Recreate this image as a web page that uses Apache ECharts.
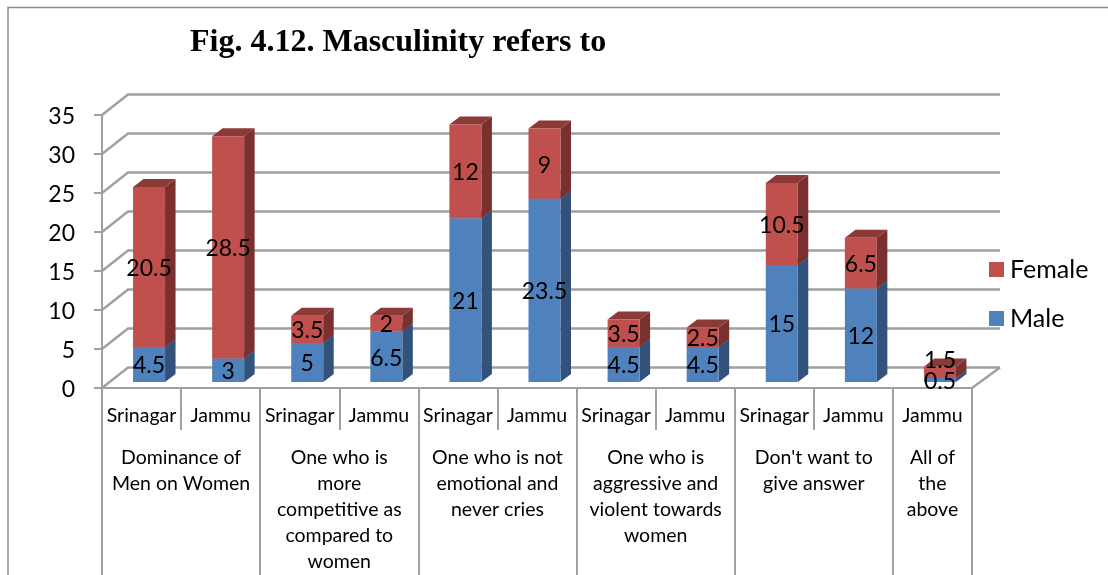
<!DOCTYPE html>
<html>
<head>
<meta charset="utf-8">
<style>html,body{margin:0;padding:0;background:#fff}#c{width:1108px;height:575px}</style>
<script src="https://cdn.jsdelivr.net/npm/echarts@6/dist/echarts.min.js"></script>
</head>
<body>
<div id="c"></div>
<script>
const places = ['Srinagar','Jammu','Srinagar','Jammu','Srinagar','Jammu','Srinagar','Jammu','Srinagar','Jammu','Jammu'];
const male = [4.5,3,5,6.5,21,23.5,4.5,4.5,15,12,0.5];
const female = [20.5,28.5,3.5,2,12,9,3.5,2.5,10.5,6.5,1.5];
const groupLabels = ['Dominance of\nMen on Women','One who is\nmore\ncompetitive as\ncompared to\nwomen','One who is not\nemotional and\nnever cries','One who is\naggressive and\nviolent towards\nwomen',"Don't want to\ngive answer",'All of\nthe\nabove'];
const groupCenters = [1,3,5,7,9,10.5];
const groupEdges = [0,2,4,6,8,10,11];
const yTicks = [0,5,10,15,20,25,30,35];

const FONT = 'Lato';
const GRID_L = 102, GRID_R = 972, GRID_T = 115, GRID_B = 388;
const WALL_DX = 26, WALL_DY = -20.5;
const BAR_SHIFT_X = 7.5, BAR_SHIFT_Y = -6, BAR_W = 32, DEPTH_X = 10.5, DEPTH_Y = -8;
const GRID_COLOR = '#A0A0A0';

const palette = {
  Male: {front:'#4F81BD', side:'#32527B', top:'#3C6290'},
  Female:{front:'#C0504D', side:'#7A302E', top:'#8C3A38'}
};

function barItem(name, values, bases){
  return function(params, api){
    const i = api.value(0);
    const v = values[i], b = bases ? bases[i] : 0;
    const c = palette[name];
    const cx = api.coord([i, 0])[0] + BAR_SHIFT_X;
    const y0 = api.coord([i, b])[1] + BAR_SHIFT_Y;
    const y1 = api.coord([i, b + v])[1] + BAR_SHIFT_Y;
    const x0 = cx - BAR_W / 2, x1 = cx + BAR_W / 2;
    return {
      type: 'group',
      children: [
        {type:'polygon', shape:{points:[[x1,y0],[x1+DEPTH_X,y0+DEPTH_Y],[x1+DEPTH_X,y1+DEPTH_Y],[x1,y1]]}, style:{fill:c.side}},
        {type:'polygon', shape:{points:[[x0,y1],[x1,y1],[x1+DEPTH_X,y1+DEPTH_Y],[x0+DEPTH_X,y1+DEPTH_Y]]}, style:{fill:c.top}},
        {type:'rect', shape:{x:x0, y:y1, width:BAR_W, height:y0-y1}, style:{fill:c.front}}
      ]
    };
  };
}
function labelItem(values, bases){
  return function(params, api){
    const i = api.value(0);
    const v = values[i], b = bases ? bases[i] : 0;
    const cx = api.coord([i, 0])[0] + BAR_SHIFT_X;
    const y0 = api.coord([i, b])[1] + BAR_SHIFT_Y;
    const y1 = api.coord([i, b + v])[1] + BAR_SHIFT_Y;
    const thin = bases && v < 2;
    return {type:'text', style:{text:String(v), x:cx, y:(y0+y1)/2 + (thin ? -12 : 1.5), align:'center', verticalAlign:'middle', font:'23px '+FONT, fill:'#000'}};
  };
}

const option = {
  animation:false,
  backgroundColor:'#fff',
  title:{text:'Fig. 4.12. Masculinity refers to', left:185, top:22, textStyle:{fontFamily:'Liberation Serif', fontWeight:'bold', fontSize:32, color:'#000'}},
  legend:{
    data:['Female','Male'], orient:'vertical', left:984, top:252, itemWidth:15, itemHeight:15, itemGap:24,
    icon:'rect', textStyle:{fontFamily:FONT, fontSize:25, color:'#000', padding:[0,0,0,1]}
  },
  grid:{left:GRID_L, top:GRID_T, width:GRID_R-GRID_L, height:GRID_B-GRID_T},
  xAxis:[
    {type:'category', data:places, position:'bottom', boundaryGap:true,
      axisLine:{show:true, lineStyle:{color:GRID_COLOR, width:2}},
      axisTick:{show:true, length:42, alignWithLabel:false, lineStyle:{color:GRID_COLOR, width:2}},
      axisLabel:{fontFamily:FONT, fontSize:19.5, color:'#000', margin:18, interval:0},
      splitLine:{show:false}},
    {type:'value', min:0, max:11, position:'bottom',
      axisLine:{show:false},
      axisTick:{show:true, length:190, customValues:groupEdges, lineStyle:{color:GRID_COLOR, width:2}},
      axisLabel:{customValues:groupCenters, fontFamily:FONT, fontSize:19.5, lineHeight:26, color:'#000', margin:57, verticalAlign:'top', align:'center',
        formatter:function(v){ return groupLabels[groupCenters.indexOf(v)] || ''; }},
      splitLine:{show:false}}
  ],
  yAxis:{type:'value', min:0, max:35, interval:5,
    axisLine:{show:true, lineStyle:{color:GRID_COLOR, width:2}},
    axisTick:{show:true, length:8, lineStyle:{color:GRID_COLOR, width:2}},
    axisLabel:{fontFamily:FONT, fontSize:23, color:'#000', margin:27, verticalAlign:'top', padding:[-10,0,0,0], lineHeight:23},
    splitLine:{show:false}},
  graphic:[{type:'polyline', silent:true, z:-1, shape:{points:[[8,575],[8,7.5],[1108,7.5]]}, style:{fill:null, stroke:'#8C8C8C', lineWidth:1.5}}],
  series:[
    {type:'custom', name:'wall', xAxisIndex:1, yAxisIndex:0, z:1, silent:true,
      data:yTicks.map(t=>[t]),
      renderItem:function(params, api){
        const t = api.value(0);
        const a = api.coord([0,t]), e = api.coord([11,t]);
        const pts = [[a[0],a[1]],[a[0]+WALL_DX,a[1]+WALL_DY],[e[0]+WALL_DX+2,e[1]+WALL_DY]];
        const children = [{type:'polyline', shape:{points:pts}, style:{stroke:GRID_COLOR, lineWidth:2.4, fill:null}}];
        if(t===0){ children.push({type:'line', shape:{x1:e[0],y1:e[1],x2:e[0]+WALL_DX+2,y2:e[1]+WALL_DY}, style:{stroke:GRID_COLOR, lineWidth:2.4}}); }
        return {type:'group', children};
      }},
    {type:'custom', name:'Male', xAxisIndex:0, yAxisIndex:0, z:2, itemStyle:{color:palette.Male.front},
      data:male.map((v,i)=>[i,v]), renderItem:barItem('Male',male,null), clip:false},
    {type:'custom', name:'Female', xAxisIndex:0, yAxisIndex:0, z:3, itemStyle:{color:palette.Female.front},
      data:female.map((v,i)=>[i,v]), renderItem:barItem('Female',female,male), clip:false},
    {type:'custom', name:'maleLabels', xAxisIndex:0, yAxisIndex:0, z:4, silent:true,
      data:male.map((v,i)=>[i,v]), renderItem:labelItem(male,null), clip:false},
    {type:'custom', name:'femaleLabels', xAxisIndex:0, yAxisIndex:0, z:4, silent:true,
      data:female.map((v,i)=>[i,v]), renderItem:labelItem(female,male), clip:false}
  ]
};
echarts.init(document.getElementById('c')).setOption(option);
</script>
</body>
</html>
